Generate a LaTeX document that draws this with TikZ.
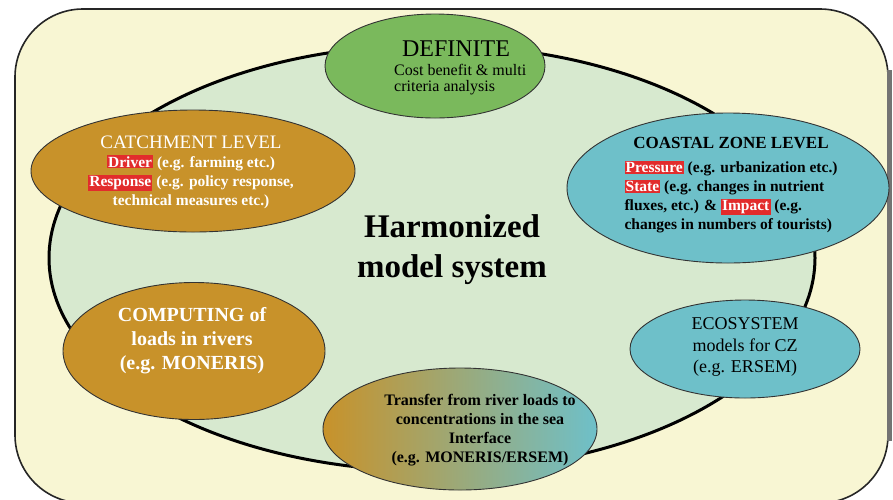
\documentclass[tikz,border=0pt]{standalone}
\usepackage{fontspec}
\setmainfont{Liberation Serif}
\usetikzlibrary{shapes.geometric}

\definecolor{cream}{RGB}{248,246,211}
\definecolor{ringfill}{RGB}{215,233,207}
\definecolor{leafgreen}{RGB}{122,185,92}
\definecolor{ochre}{RGB}{200,146,42}
\definecolor{seateal}{RGB}{110,192,201}
\definecolor{tagred}{RGB}{226,44,44}

% white label on a red tag
\newcommand\redtag[1]{{\setlength{\fboxsep}{1.1pt}\colorbox{tagred}{\textcolor{white}{#1}}}}

\begin{document}
\begin{tikzpicture}[x=1pt,y=-1pt,
  bubble/.style={ellipse, draw=black!80, line width=0.9pt, inner sep=0pt},
  smallbold/.style={font=\bfseries\fontsize{15.5}{19}\selectfont},
]
\useasboundingbox (0,0) rectangle (893,499);

% frame
\draw[fill=cream, draw=black!85, line width=1.6pt, rounded corners=68pt] (15,9) rectangle (888,503);
\fill[black!55] (887,70) rectangle (891.5,441);

% central ring
\draw[fill=ringfill, line width=3pt] (432,258) ellipse [x radius=383pt, y radius=213pt];

% bubbles
\node[bubble, fill=leafgreen, minimum width=220pt, minimum height=104pt] (definite) at (435,66) {};
\node[bubble, fill=ochre, minimum width=324pt, minimum height=122pt] (catchment) at (193,171) {};
\node[bubble, fill=seateal, minimum width=322pt, minimum height=150pt] (coastal) at (728,188) {};
\node[bubble, fill=ochre, minimum width=262pt, minimum height=137pt] (computing) at (194,351) {};
\node[bubble, fill=seateal, minimum width=230pt, minimum height=98pt] (ecosystem) at (745,349) {};
\node[bubble, left color=ochre, right color=seateal, minimum width=274pt, minimum height=122pt] (transfer) at (460,429) {};

% texts
\node[inner sep=0pt, font=\fontsize{24}{26}\selectfont] (definitetitle) at (456,49) {DEFINITE};
\node[anchor=north west, inner sep=0pt, align=left, font=\fontsize{16}{16.5}\selectfont] (definitebody) at (394,64) {Cost benefit \& multi\\criteria analysis};

\node[align=center, text=white, smallbold] (catchtext) at (191,172)
  {{\mdseries\fontsize{19}{19}\selectfont CATCHMENT LEVEL}\\
   \redtag{Driver} (e.g. farming etc.)\\
   \redtag{Response} (e.g. policy response,\\
   technical measures etc.)};

\node[font=\bfseries\fontsize{17}{18}\selectfont] (coasttitle) at (731,143) {COASTAL ZONE LEVEL};
\node[anchor=west, align=left, smallbold] (coastbody) at (621,197)
  {\redtag{Pressure} (e.g. urbanization etc.)\\
   \redtag{State} (e.g. changes in nutrient\\
   fluxes, etc.) \& \redtag{Impact} (e.g.\\
   changes in numbers of tourists)};

\node[align=center, font=\bfseries\fontsize{33}{40}\selectfont] (harmonized) at (452,250) {Harmonized\\model system};

\node[align=center, text=white, font=\bfseries\fontsize{20}{24}\selectfont] (computingtext) at (192,341)
  {COMPUTING of\\loads in rivers\\(e.g. MONERIS)};

\node[align=center, font=\fontsize{18}{21.5}\selectfont] (ecosystemtext) at (745,347)
  {ECOSYSTEM\\models for CZ\\(e.g. ERSEM)};

\node[align=center, font=\bfseries\fontsize{16}{19}\selectfont] (transfertext) at (480,430)
  {Transfer from river loads to\\concentrations in the sea\\Interface\\(e.g. MONERIS/ERSEM)};
\end{tikzpicture}
\end{document}
